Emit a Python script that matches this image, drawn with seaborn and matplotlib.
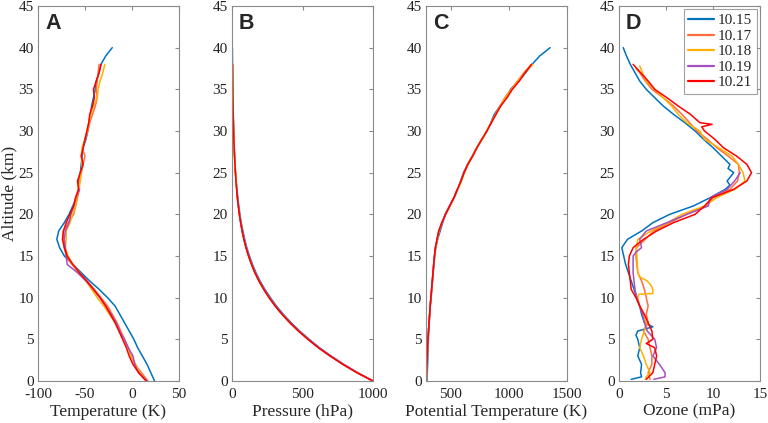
import matplotlib
matplotlib.use("Agg")
import matplotlib.pyplot as plt
import seaborn as sns
import pandas as pd

dates = ["10.15", "10.17", "10.18", "10.19", "10.21"]
colors = ["#0072BD", "#FF6E3A", "#FFB000", "#A450BE", "#FF0000"]

# altitude grids (km) for temperature / pressure / potential temperature
alt_1015 = list(range(0, 41))
alt_1017 = list(range(0, 39))
alt_1018 = list(range(0, 39))
alt_1019 = list(range(0, 24))
alt_1021 = list(range(0, 39))

# temperature (deg)
T_1015 = [24, 20, 16, 11, 6, 2, -3, -8, -13, -18, -26, -35, -45, -54, -63, -72, -77, -80, -78, -72,
          -67, -63, -59, -56, -57, -55, -54, -53, -52, -49, -47, -46, -44, -43, -41, -39, -38, -35, -33, -28, -21]
T_1017 = [17, 10, 3, -1, -4, -8, -12, -16, -21, -26, -33, -40, -48, -56, -64, -70, -72, -73, -73, -68,
          -62, -60, -58, -56, -56, -54, -52, -50, -53, -50, -47, -45, -42, -39, -37, -38, -37, -36, -35]
T_1018 = [16, 8, 4, -1, -4, -8, -13, -18, -24, -30, -37, -43, -49, -56, -63, -68, -71, -70, -70, -66,
          -63, -60, -59, -57, -55, -54, -53, -54, -53, -50, -48, -46, -44, -41, -37, -36, -34, -31, -29]
T_1019 = [16, 7, 3, 1, -4, -8, -13, -17, -22, -28, -34, -41, -49, -58, -69, -70, -71, -72, -71, -67,
          -65, -62, -60, -56]
T_1021 = [15, 7, 1, -3, -6, -10, -14, -18, -23, -28, -34, -41, -48, -56, -63, -69, -72, -74, -73, -70,
          -66, -62, -60, -57, -58, -55, -52, -54, -52, -50, -48, -46, -45, -42, -40, -41, -38, -35, -33]

# pressure (hPa)
P_1015 = [1000, 892, 793, 703, 620, 548, 480, 419, 364, 315, 272, 233, 199, 170, 145, 124, 105, 90, 77, 65,
          56, 48, 41, 35, 30, 25.5, 22, 19, 16.3, 14, 12, 10.3, 8.9, 7.7, 6.6, 5.7, 4.9, 4.3, 3.7, 3.2, 2.8]
P_1017 = [1000, 888, 788, 698, 614, 541, 473, 412, 357, 308, 265, 227, 193, 164, 140, 119, 101, 86, 73, 62,
          53, 45, 39, 33, 28.5, 24.5, 21, 18, 15.5, 13.3, 11.4, 9.8, 8.5, 7.3, 6.3, 5.4, 4.7, 4.1, 3.6]
P_1018 = [1000, 887, 787, 697, 613, 540, 472, 411, 356, 307, 264, 226, 192, 163, 139, 118, 100, 85, 72, 62,
          53, 45, 39, 33, 28.5, 24.5, 21, 18, 15.5, 13.3, 11.4, 9.8, 8.5, 7.3, 6.3, 5.4, 4.7, 4.1, 3.6]
P_1019 = [1000, 887, 787, 697, 613, 540, 472, 411, 356, 307, 264, 226, 192, 163, 139, 118, 100, 85, 72, 62,
          53, 45, 39, 33]
P_1021 = [1000, 886, 786, 696, 612, 539, 471, 410, 355, 306, 263, 225, 191, 162, 138, 117, 99, 84, 72, 61,
          52, 45, 38, 33, 28, 24, 20.8, 17.8, 15.3, 13.1, 11.2, 9.7, 8.4, 7.2, 6.2, 5.4, 4.7, 4.1, 3.6]

# potential temperature (K)
TH_1015 = [296, 299, 302, 304, 306, 308, 312, 316, 320, 325, 332, 338, 344, 350, 356, 363, 372, 388, 410, 432,
           452, 490, 530, 560, 585, 610, 645, 685, 724, 770, 812, 845, 875, 925, 975, 1015, 1085, 1145, 1200, 1265, 1355]
TH_1017 = [291, 294, 297, 300, 303, 306, 310, 314, 319, 324, 330, 336, 342, 348, 354, 361, 370, 385, 402, 428,
           455, 492, 528, 558, 590, 615, 648, 688, 724, 768, 808, 848, 885, 925, 965, 1020, 1075, 1130, 1195]
TH_1018 = [291, 294, 297, 300, 303, 306, 310, 315, 320, 325, 331, 337, 343, 349, 355, 362, 371, 386, 400, 425,
           458, 495, 530, 562, 592, 618, 650, 690, 726, 770, 810, 850, 888, 930, 970, 1025, 1080, 1140, 1205]
TH_1019 = [290, 293, 296, 299, 302, 305, 309, 314, 319, 324, 330, 336, 342, 348, 354, 360, 368, 382, 398, 424,
           455, 490, 528, 556]
TH_1021 = [289, 292, 295, 298, 301, 305, 309, 314, 319, 324, 330, 336, 342, 348, 354, 361, 369, 383, 397, 424,
           456, 492, 528, 558, 590, 616, 648, 690, 726, 768, 812, 850, 890, 930, 985, 1030, 1090, 1140, 1195]

# ozone partial pressure (mPa), each on its own altitude grid
O3_alt_1015 = [0.2, 0.5, 1, 2, 3, 4, 5, 5.5, 6, 6.5, 7, 8, 9, 10, 11, 12, 13, 14, 15, 16, 17, 18, 19, 20, 21,
               22, 23, 23.5, 24, 25, 25.5, 26, 27, 28, 29, 30, 31, 32, 33, 34, 35, 36, 37, 38, 39, 40]
O3_1015 = [1.3, 2.4, 2.3, 2.4, 2.0, 2.2, 2.0, 1.8, 2.0, 3.6, 2.7, 2.4, 2.2, 1.9, 1.6, 1.3, 1.0, 0.7, 0.5, 0.3,
           0.9, 2.4, 3.6, 5.4, 7.9, 9.7, 11.3, 11.8, 11.5, 12.2, 11.6, 11.8, 10.9, 10.0, 9.0, 8.1, 7.0, 5.8,
           4.7, 3.8, 2.9, 2.2, 1.7, 1.2, 0.8, 0.45]
O3_alt_1017 = [0.2, 1, 2, 3, 4, 5, 6, 7, 8, 9, 10, 11, 12, 13, 14, 15, 16, 17, 18, 19, 20, 21, 22, 23, 24, 25,
               26, 27, 28, 29, 30, 31, 32, 33, 34, 35, 36, 37, 37.5]
O3_1017 = [3.3, 3.1, 3.5, 3.5, 3.3, 3.1, 2.6, 3.1, 2.9, 3.1, 2.9, 2.7, 2.4, 2.0, 1.9, 1.8, 1.85, 2.8, 3.7, 5.4,
           7.2, 9.3, 10.0, 11.8, 12.6, 12.8, 12.7, 11.6, 10.4, 9.4, 8.3, 7.5, 6.7, 5.8, 4.7, 3.5, 2.8, 2.2, 1.8]
O3_alt_1018 = [0.2, 0.5, 1, 2, 3, 4, 5, 6, 7, 8, 9, 10, 10.4, 10.5, 11, 11.5, 12, 12.5, 13, 15, 16, 17, 18, 19,
               20, 21, 22, 23, 24, 25, 26, 27, 28, 29, 30, 31, 32, 33, 34, 35, 36, 37, 37.8]
O3_1018 = [2.8, 2.9, 3.3, 2.9, 2.6, 2.2, 2.4, 2.7, 2.9, 2.6, 2.2, 2.0, 2.1, 3.6, 3.6, 3.4, 3.0, 2.2, 2.0, 1.9,
           1.85, 2.0, 3.4, 5.2, 6.7, 9.1, 10.4, 12.3, 13.4, 13.2, 12.7, 12.0, 10.6, 9.1, 8.6, 7.2, 6.3, 5.6,
           4.7, 3.8, 2.9, 2.5, 2.2]
O3_alt_1019 = [0.2, 0.5, 1, 2, 3, 4, 5, 6, 7, 8, 9, 10, 11, 13, 15, 15.5, 16, 17, 18, 19, 20, 21, 22, 23, 24, 25]
O3_1019 = [3.7, 4.9, 4.9, 4.3, 3.6, 4.0, 3.8, 3.0, 2.7, 2.5, 2.2, 1.9, 1.7, 1.5, 1.5, 1.85, 2.4, 2.2, 2.9, 5.1,
           7.2, 9.5, 9.7, 11.5, 12.3, 12.9]
O3_alt_1021 = [0.2, 1, 2, 3, 4, 4.5, 5, 6, 7, 8, 9, 10, 11, 12, 13, 14, 15, 16, 17, 18, 19, 20, 21, 22, 23, 24,
               25, 26, 27, 28, 29, 30, 30.5, 30.8, 31, 32, 33, 34, 35, 36, 37, 38]
O3_1021 = [2.9, 3.6, 3.8, 4.0, 3.8, 2.9, 3.6, 3.5, 3.1, 2.7, 2.2, 1.8, 1.3, 1.2, 1.1, 1.0, 1.1, 1.5, 2.6, 4.0,
           5.8, 8.1, 9.1, 9.9, 12.2, 13.6, 14.1, 13.6, 12.5, 11.1, 10.2, 9.1, 8.8, 9.9, 8.6, 7.6, 6.3, 5.1,
           3.8, 3.1, 2.3, 1.5]


def long_table(alts, vals):
    rows = []
    for d, a, v in zip(dates, alts, vals):
        for ai, vi in zip(a, v):
            rows.append({"date": d, "alt": ai, "val": vi})
    return pd.DataFrame(rows)


alts = [alt_1015, alt_1017, alt_1018, alt_1019, alt_1021]
panels = [
    ("A", long_table(alts, [T_1015, T_1017, T_1018, T_1019, T_1021]),
     "Temperature (K)", (-100, 50), [-100, -50, 0, 50]),
    ("B", long_table(alts, [P_1015, P_1017, P_1018, P_1019, P_1021]),
     "Pressure (hPa)", (0, 1000), [0, 500, 1000]),
    ("C", long_table(alts, [TH_1015, TH_1017, TH_1018, TH_1019, TH_1021]),
     "Potential Temperature (K)", (288, 1500), [500, 1000, 1500]),
    ("D", long_table([O3_alt_1015, O3_alt_1017, O3_alt_1018, O3_alt_1019, O3_alt_1021],
                     [O3_1015, O3_1017, O3_1018, O3_1019, O3_1021]),
     "Ozone (mPa)", (0, 15), [0, 5, 10, 15]),
]

sns.set_style("white")
plt.rcParams["font.family"] = "serif"
plt.rcParams["font.serif"] = ["Liberation Serif", "DejaVu Serif"]
plt.rcParams["axes.unicode_minus"] = False

fig = plt.figure(figsize=(7.68, 4.23), dpi=100)
lefts = [38, 232, 426, 619]
palette = dict(zip(dates, colors))

for i, (letter, df, xlabel, xlim, xticks) in enumerate(panels):
    ax = fig.add_axes([lefts[i] / 768, 42 / 423, 141 / 768, 375 / 423])
    sns.lineplot(data=df, x="val", y="alt", hue="date", palette=palette, sort=False,
                 estimator=None, linewidth=1.1, ax=ax, legend=(letter == "D"))
    ax.set_xlim(*xlim)
    ax.set_ylim(0, 45)
    ax.set_xticks(xticks)
    ax.set_yticks(range(0, 46, 5))
    ax.set_xlabel(xlabel, fontsize=12.5, labelpad=2)
    ax.set_ylabel("Altitude (km)" if i == 0 else "", fontsize=12.5, labelpad=1)
    ax.tick_params(direction="in", length=3, top=True, right=True, labelsize=11,
                   color="#8a8a8a", labelcolor="#222222")
    ax.tick_params(axis="x", pad=5)
    ax.tick_params(axis="y", pad=3)
    for sp in ax.spines.values():
        sp.set_color("#8a8a8a")
        sp.set_linewidth(0.8)
    ax.text(0.05, 0.982, letter, transform=ax.transAxes, ha="left", va="top",
            fontsize=15.5, fontweight="bold", family="Liberation Sans")
    if letter == "D":
        leg = ax.legend(loc="upper right", fontsize=11, frameon=True, fancybox=False,
                        borderaxespad=0.2, handlelength=1.7, handletextpad=0.25,
                        labelspacing=0.12, borderpad=0.3)
        leg.get_frame().set_edgecolor("#8a8a8a")
        leg.get_frame().set_linewidth(0.8)
        for h in leg.get_lines():
            h.set_linewidth(1.6)

fig.savefig("out.png", dpi=100)
